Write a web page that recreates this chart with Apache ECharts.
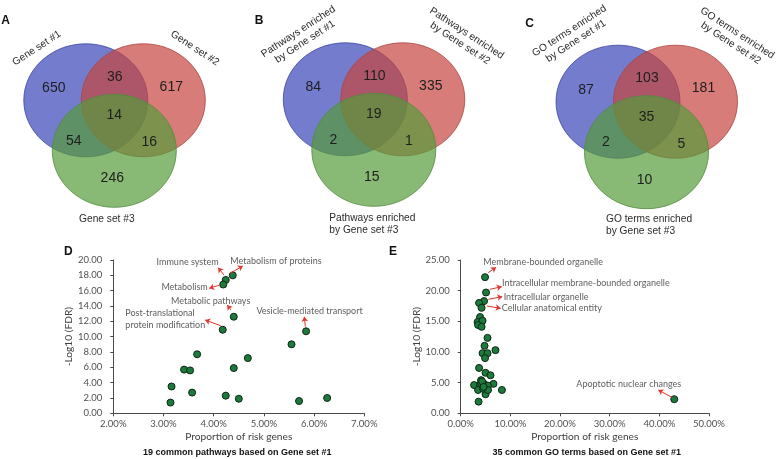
<!DOCTYPE html>
<html>
<head>
<meta charset="utf-8">
<script src="https://cdn.jsdelivr.net/npm/echarts@6.0.0/dist/echarts.min.js"></script>
<style>
  html, body { margin: 0; padding: 0; background: #fff; }
  #main { width: 776px; height: 459px; }
</style>
</head>
<body>
<div id="main"></div>
<script>
// ---- Venn counts: [only #1, #1&#2, only #2, all three, #1&#3, #2&#3, only #3]
var vennCountsA = [650, 36, 617, 14, 54, 16, 246];
var vennCountsB = [84, 110, 335, 19, 2, 1, 15];
var vennCountsC = [87, 103, 181, 35, 2, 5, 10];

var vennLabelsA = ['Gene set #1', 'Gene set #2', 'Gene set #3'];
var vennLabelsB = ['Pathways enriched\nby Gene set #1', 'Pathways enriched\nby Gene set #2', 'Pathways enriched\nby Gene set #3'];
var vennLabelsC = ['GO terms enriched\nby Gene set #1', 'GO terms enriched\nby Gene set #2', 'GO terms enriched\nby Gene set #3'];

// ---- D: 19 common pathways (proportion %, -log10 FDR)
var pathX = [4.38, 4.24, 4.19, 4.40, 4.18, 5.84, 5.55, 3.67, 4.68, 4.40, 3.41, 3.53, 3.16, 3.57, 4.24, 4.50, 6.26, 5.70, 3.14];
var pathY = [18.0, 17.4, 16.8, 12.6, 10.9, 10.7, 9.0, 7.7, 7.2, 5.9, 5.7, 5.6, 3.5, 2.7, 2.3, 1.9, 2.0, 1.6, 1.4];

// ---- E: 35 common GO terms
var goX = [4.9, 5.1, 4.7, 3.7, 4.2, 3.9, 3.4, 4.4, 3.5, 4.2, 5.4, 4.8, 7.0, 4.4, 5.4, 4.9,
           3.7, 5.0, 6.0, 4.1, 2.7, 6.6, 8.3, 5.0, 3.6, 3.9, 4.7, 5.5, 3.5, 4.5, 5.5, 4.1, 4.3, 4.6, 43.0];
var goY = [22.2, 19.7, 18.3, 18.0, 17.2, 15.7, 14.9, 15.1, 14.4, 14.1, 12.3, 11.0, 10.3, 9.8, 9.8, 9.0,
           7.4, 6.6, 6.2, 5.4, 4.6, 4.8, 3.8, 3.1, 1.9, 4.6, 4.8, 4.5, 3.8, 4.0, 3.8, 4.9, 5.2, 4.3, 2.3];

// annotation texts and arrows (data coords)
var pathNotes = [
  { name: 'Immune system', at: [3.48, 19.70], from: [4.205, 18.04], to: [4.09, 19.0] },
  { name: 'Metabolism of proteins', at: [5.24, 19.91], from: [4.325, 18.26], to: [4.58, 19.22] },
  { name: 'Metabolism', at: [3.42, 16.44], from: [4.125, 16.74], to: [3.91, 16.31] },
  { name: 'Metabolic pathways', at: [3.94, 14.69], from: [4.345, 13.48], to: [4.27, 14.13] },
  { name: 'Post-translational\nprotein modification', at: [2.23, 12.28], from: [4.14, 11.43], to: [3.83, 12.17], left: true },
  { name: 'Vesicle-mediated transport', at: [5.91, 13.39], from: [5.825, 11.30], to: [5.805, 12.60] }
];
var goNotes = [
  { name: 'Membrane-bounded organelle', at: [16.6, 24.72], from: [5.56, 22.93], to: [7.11, 23.81] },
  { name: 'Intracellular membrane-bounded organelle', at: [25.2, 21.20], from: [5.90, 20.22], to: [8.26, 20.65] },
  { name: 'Intracellular organelle', at: [17.2, 18.92], from: [5.56, 18.59], to: [8.38, 19.02] },
  { name: 'Cellular anatomical entity', at: [18.35, 17.17], from: [5.24, 17.50], to: [8.05, 17.12] },
  { name: 'Apoptotic nuclear changes', at: [33.85, 4.73], from: [42.49, 2.61], to: [39.79, 3.80] }
];

var myChart = echarts.init(document.getElementById('main'));

var sans = 'Liberation Sans, Arial, sans-serif';
var cal = 'Lato, sans-serif';
var circleFill = ['rgba(55,69,184,0.7)', 'rgba(198,69,62,0.7)', 'rgba(85,155,58,0.7)'];
var circleLine = ['rgba(60,70,160,0.8)', 'rgba(170,70,65,0.8)', 'rgba(80,140,60,0.8)'];
var countOffsets = [[-32, -12], [29, -23.5], [85.5, -13.5], [28.5, 15], [-12, 40.5], [63.5, 42], [26.5, 78]];

function venn(bx, by, counts, labels, labelPos) {
  var els = [];
  var centers = [[0, 0], [57.5, 0], [28.5, 50.5]];
  centers.forEach(function (c, i) {
    els.push({
      type: 'ellipse', silent: true,
      shape: { cx: bx + c[0], cy: by + c[1], rx: 62, ry: 56.5 },
      style: { fill: circleFill[i], stroke: circleLine[i], lineWidth: 1 }
    });
  });
  counts.forEach(function (v, i) {
    els.push({
      type: 'text', silent: true, x: bx + countOffsets[i][0], y: by + countOffsets[i][1],
      style: { text: String(v), fontSize: 14, fontFamily: sans, fill: '#1e1e1e', align: 'center', verticalAlign: 'middle' }
    });
  });
  labels.forEach(function (t, i) {
    var p = labelPos[i];
    els.push({
      type: 'text', silent: true, x: bx + p[0], y: by + p[1], rotation: p[2] * Math.PI / 180,
      style: { text: t, fontSize: 10.2, lineHeight: 12, fontFamily: sans, fill: '#2a2a2a', align: p[3] || 'center', verticalAlign: 'middle' }
    });
  });
  return els;
}

function letter(t, x, y) {
  return { type: 'text', silent: true, x: x, y: y,
    style: { text: t, fontSize: 12, fontWeight: 'bold', fontFamily: sans, fill: '#111', align: 'center', verticalAlign: 'middle' } };
}

var graphics = []
  .concat(venn(85.8, 100.3, vennCountsA, vennLabelsA, [[-49, -52, 33], [109, -52, -33], [21, 119, 0]]))
  .concat(venn(345.3, 99.3, vennCountsB, vennLabelsB, [[-43.6, -62.6, 33], [118, -61, -33], [-16, 125, 0, 'left']]))
  .concat(venn(618, 101.7, vennCountsC, vennLabelsC, [[-45.3, -65.7, 33], [116, -63.5, -33], [-12, 123.5, 0, 'left']]))
  .concat([
    letter('A', 5.5, 21), letter('B', 259, 21), letter('C', 529.7, 24),
    letter('D', 68.3, 251.7), letter('E', 393, 252),
    { type: 'text', silent: true, x: 237.3, y: 452.7,
      style: { text: '19 common pathways based on Gene set #1', fontSize: 9, fontWeight: 'bold', fontFamily: sans, fill: '#111', align: 'center', verticalAlign: 'middle' } },
    { type: 'text', silent: true, x: 586.7, y: 452.7,
      style: { text: '35 common GO terms based on Gene set #1', fontSize: 9, fontWeight: 'bold', fontFamily: sans, fill: '#111', align: 'center', verticalAlign: 'middle' } }
  ]);

function axisCommon(extra) {
  var base = {
    type: 'value',
    splitLine: { show: false },
    axisLine: { show: true, lineStyle: { color: '#4a4a4a', width: 1 } },
    axisTick: { show: true, length: 3, lineStyle: { color: '#4a4a4a' } },
    nameLocation: 'middle',
    nameTextStyle: { fontFamily: cal, fontSize: 10.2, color: '#404040' }
  };
  for (var k in extra) base[k] = extra[k];
  return base;
}

function arrows(notes) {
  return notes.map(function (n) { return [{ coord: n.from }, { coord: n.to }]; });
}
function noteData(notes) {
  return notes.map(function (n) {
    var d = { name: n.name, value: n.at };
    if (n.left) d.label = { position: 'right', distance: 0, align: 'left' };
    return d;
  });
}

var tickFont = { fontFamily: cal, fontSize: 9.5, color: '#505050' };
function pct(v) { return v.toFixed(2) + '%'; }
function dec(v) { return v.toFixed(2); }

var dotStyle = { color: '#1c7a3c', borderColor: '#0d2612', borderWidth: 1, opacity: 1 };
var markStyle = {
  silent: true, animation: false,
  symbol: ['none', 'arrow'], symbolSize: 5,
  lineStyle: { color: '#e2342c', width: 1, type: 'solid' },
  label: { show: false }
};
var noteLabel = { show: true, position: 'inside', formatter: '{b}', fontFamily: cal, fontSize: 9, color: '#333', lineHeight: 12 };

option = {
  backgroundColor: '#fff',
  animation: false,
  graphic: graphics,
  grid: [
    { left: 113.3, top: 260, width: 251, height: 153.3 },
    { left: 460.7, top: 260, width: 248.3, height: 153.3 }
  ],
  xAxis: [
    axisCommon({ gridIndex: 0, min: 2, max: 7, interval: 1, name: 'Proportion of risk genes', nameGap: 18,
      axisLabel: Object.assign({ margin: 6, formatter: pct }, tickFont) }),
    axisCommon({ gridIndex: 1, min: 0, max: 50, interval: 10, name: 'Proportion of risk genes', nameGap: 18,
      axisLabel: Object.assign({ margin: 6, formatter: pct }, tickFont) })
  ],
  yAxis: [
    axisCommon({ gridIndex: 0, min: 0, max: 20, interval: 2, name: '-Log10 (FDR)', nameGap: 35,
      axisLabel: Object.assign({ margin: 11, formatter: dec }, tickFont) }),
    axisCommon({ gridIndex: 1, min: 0, max: 25, interval: 5, name: '-Log10 (FDR)', nameGap: 39,
      axisLabel: Object.assign({ margin: 11, formatter: dec }, tickFont) })
  ],
  series: [
    {
      name: 'pathways', type: 'scatter', xAxisIndex: 0, yAxisIndex: 0,
      symbolSize: 7, itemStyle: dotStyle,
      data: pathX.map(function (x, i) { return [x, pathY[i]]; }),
      markLine: Object.assign({ data: arrows(pathNotes) }, markStyle)
    },
    {
      name: 'pathwayNotes', type: 'scatter', xAxisIndex: 0, yAxisIndex: 0, silent: true,
      symbolSize: 1, itemStyle: { color: 'rgba(0,0,0,0)' },
      label: noteLabel, data: noteData(pathNotes)
    },
    {
      name: 'go', type: 'scatter', xAxisIndex: 1, yAxisIndex: 1,
      symbolSize: 7, itemStyle: dotStyle,
      data: goX.map(function (x, i) { return [x, goY[i]]; }),
      markLine: Object.assign({ data: arrows(goNotes) }, markStyle)
    },
    {
      name: 'goNotes', type: 'scatter', xAxisIndex: 1, yAxisIndex: 1, silent: true,
      symbolSize: 1, itemStyle: { color: 'rgba(0,0,0,0)' },
      label: noteLabel, data: noteData(goNotes)
    }
  ]
};

myChart.setOption(option);
</script>
</body>
</html>
